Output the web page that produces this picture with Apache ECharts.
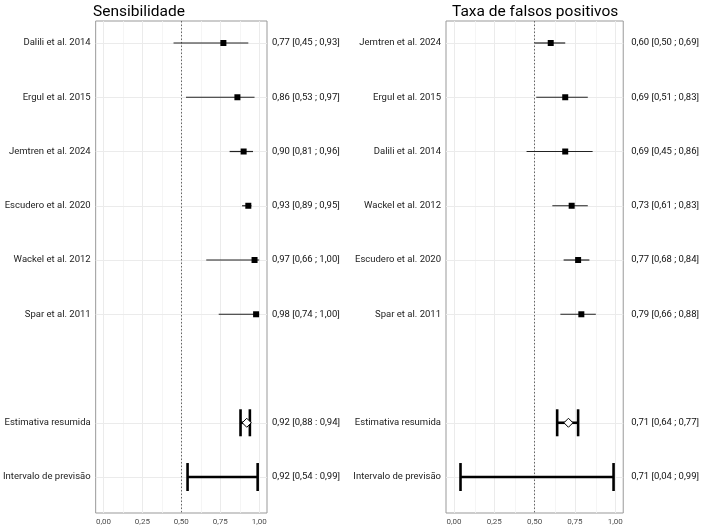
<!DOCTYPE html>
<html>
<head>
<meta charset="utf-8">
<script src="https://cdn.jsdelivr.net/npm/echarts@6/dist/echarts.min.js"></script>
<style>
  html, body { margin: 0; padding: 0; background: #fff; }
  #chart { width: 702px; height: 527px; }
</style>
</head>
<body>
<div id="chart"></div>
<script>
// row slots top to bottom, slot 6 is left empty
const rows = [0, 1, 2, 3, 4, 5, 7, 8];

// Sensibilidade
const sensLabels = ["Dalili et al. 2014", "Ergul et al. 2015", "Jemtren et al. 2024", "Escudero et al. 2020",
  "Wackel et al. 2012", "Spar et al. 2011", "Estimativa resumida", "Intervalo de previsão"];
const sensEst = [0.77, 0.86, 0.90, 0.93, 0.97, 0.98, 0.92, 0.92];
const sensLo = [0.45, 0.53, 0.81, 0.89, 0.66, 0.74, 0.88, 0.54];
const sensHi = [0.93, 0.97, 0.96, 0.95, 1.00, 1.00, 0.94, 0.99];
const sensSep = [";", ";", ";", ";", ";", ";", ":", ":"];

// Taxa de falsos positivos
const fprLabels = ["Jemtren et al. 2024", "Ergul et al. 2015", "Dalili et al. 2014", "Wackel et al. 2012",
  "Escudero et al. 2020", "Spar et al. 2011", "Estimativa resumida", "Intervalo de previsão"];
const fprEst = [0.60, 0.69, 0.69, 0.73, 0.77, 0.79, 0.71, 0.71];
const fprLo = [0.50, 0.51, 0.45, 0.61, 0.68, 0.66, 0.64, 0.04];
const fprHi = [0.69, 0.83, 0.86, 0.83, 0.84, 0.88, 0.77, 0.99];
const fprSep = [";", ";", ";", ";", ";", ";", ";", ";"];

// 0 = study, 1 = summary, 2 = prediction interval
const kinds = [0, 0, 0, 0, 0, 0, 1, 2];

const xMajor = [0, 0.25, 0.5, 0.75, 1];
const xMinor = [0.125, 0.375, 0.625, 0.875];
const refLine = 0.5;

const FONT = "Roboto";
const fmt = v => v.toFixed(2).replace(".", ",");

function ciText(est, lo, hi, sep) {
  return est.map((e, i) => `${fmt(e)} [${fmt(lo[i])} ${sep[i]} ${fmt(hi[i])}]`);
}

function buildData(est, lo, hi) {
  return rows.map((r, i) => [r, est[i], lo[i], hi[i], kinds[i]]);
}

function renderItem(params, api) {
  const y = api.value(0);
  const kind = api.value(4);
  const pe = api.coord([api.value(1), y]);
  const pl = api.coord([api.value(2), y]);
  const ph = api.coord([api.value(3), y]);
  const children = [];
  if (kind === 0) {
    children.push({
      type: "line",
      shape: { x1: pl[0], y1: pl[1], x2: ph[0], y2: ph[1] },
      style: { stroke: "#222", lineWidth: 1.2 }
    });
    children.push({
      type: "rect",
      shape: { x: pe[0] - 3, y: pe[1] - 3, width: 6, height: 6 },
      style: { fill: "#000" }
    });
  } else {
    const h = kind === 1 ? 13.5 : 14;
    children.push({
      type: "line",
      shape: { x1: pl[0], y1: pl[1], x2: ph[0], y2: ph[1] },
      style: { stroke: "#000", lineWidth: 2.6 }
    });
    [pl, ph].forEach(p => {
      children.push({
        type: "line",
        shape: { x1: p[0], y1: p[1] - h, x2: p[0], y2: p[1] + h },
        style: { stroke: "#000", lineWidth: 2.6 }
      });
    });
    if (kind === 1) {
      children.push({
        type: "polygon",
        shape: { points: [[pe[0], pe[1] - 4.5], [pe[0] + 4.5, pe[1]], [pe[0], pe[1] + 4.5], [pe[0] - 4.5, pe[1]]] },
        style: { fill: "#fff", stroke: "#000", lineWidth: 1 }
      });
    }
  }
  return { type: "group", children: children };
}

const yMin = -0.4055, yMax = 8.663;

function makeAxes(idx, labels, rightText, rightMargin) {
  const x = {
    type: "value", gridIndex: idx, min: -0.05, max: 1.05,
    axisLine: { show: false },
    splitLine: { show: false },
    axisTick: { show: true, customValues: xMajor, length: 3, lineStyle: { color: "#333" } },
    axisLabel: {
      customValues: xMajor, formatter: v => fmt(v), margin: 5,
      color: "#4d4d4d", fontSize: 8, fontFamily: FONT
    }
  };
  const yl = {
    type: "value", gridIndex: idx, inverse: true, min: yMin, max: yMax,
    axisLine: { show: false },
    splitLine: { show: false },
    axisTick: { show: true, customValues: rows, length: 3, lineStyle: { color: "#333" } },
    axisLabel: {
      customValues: rows, formatter: v => labels[rows.indexOf(v)] || "", margin: 5,
      color: "#222", fontSize: 9.5, fontFamily: FONT
    }
  };
  const yr = {
    type: "value", gridIndex: idx, inverse: true, min: yMin, max: yMax, position: "right",
    axisLine: { show: false },
    splitLine: { show: false },
    axisTick: { show: false },
    axisLabel: {
      customValues: rows, formatter: v => rightText[rows.indexOf(v)] || "", margin: rightMargin,
      color: "#111", fontSize: 9.5, fontFamily: FONT
    }
  };
  return { x, yl, yr };
}

const a0 = makeAxes(0, sensLabels, ciText(sensEst, sensLo, sensHi, sensSep), 5);
const a1 = makeAxes(1, fprLabels, ciText(fprEst, fprLo, fprHi, fprSep), 8);

function gridSeries(xi, yi) {
  const minor = xMinor.map(v => ({ xAxis: v, lineStyle: { color: "#f3f3f3", width: 0.8, type: "solid" } }));
  const major = xMajor.map(v => ({ xAxis: v, lineStyle: { color: "#ebebeb", width: 1, type: "solid" } }));
  const hor = rows.map(r => ({ yAxis: r, lineStyle: { color: "#ebebeb", width: 1, type: "solid" } }));
  return [
    {
      type: "line", xAxisIndex: xi, yAxisIndex: yi, data: [], z: 1, silent: true,
      markLine: { z: 1, silent: true, symbol: ["none", "none"], label: { show: false }, animation: false,
        data: minor.concat(major, hor) }
    },
    {
      type: "line", xAxisIndex: xi, yAxisIndex: yi, data: [], z: 2, silent: true,
      markLine: { z: 2, silent: true, symbol: ["none", "none"], label: { show: false }, animation: false,
        data: [{ xAxis: refLine, lineStyle: { color: "#666", width: 1, type: [1.5, 2] } }] }
    }
  ];
}

const chart = echarts.init(document.getElementById("chart"), null, { renderer: "canvas" });
chart.setOption({
  animation: false,
  backgroundColor: "#fff",
  title: [
    { text: "Sensibilidade", left: 88, top: -1, textStyle: { fontSize: 15.5, fontWeight: "normal", color: "#000", fontFamily: FONT } },
    { text: "Taxa de falsos positivos", left: 447, top: -1, textStyle: { fontSize: 15.5, fontWeight: "normal", color: "#000", fontFamily: FONT } }
  ],
  grid: [
    { left: 88, top: 21, width: 179, height: 492, show: true, borderColor: "#999", borderWidth: 1, backgroundColor: "transparent" },
    { left: 446, top: 21, width: 179, height: 492, show: true, borderColor: "#999", borderWidth: 1, backgroundColor: "transparent" }
  ],
  xAxis: [a0.x, a1.x],
  yAxis: [a0.yl, a0.yr, a1.yl, a1.yr],
  series: [
    ...gridSeries(0, 0),
    ...gridSeries(1, 2),
    {
      type: "custom", xAxisIndex: 0, yAxisIndex: 0, z: 3, renderItem: renderItem,
      data: buildData(sensEst, sensLo, sensHi)
    },
    {
      type: "custom", xAxisIndex: 1, yAxisIndex: 2, z: 3, renderItem: renderItem,
      data: buildData(fprEst, fprLo, fprHi)
    }
  ]
});
</script>
</body>
</html>
